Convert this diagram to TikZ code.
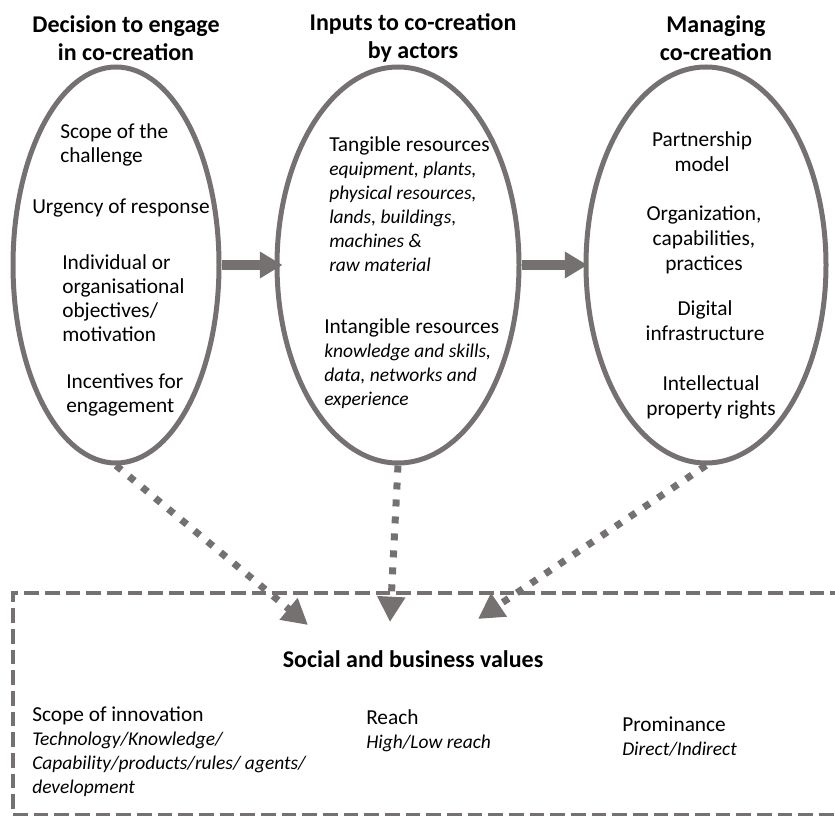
\documentclass[tikz,border=0pt]{standalone}
\usepackage{fontspec}
\setmainfont{Carlito}
\usepackage{tikz}
\usetikzlibrary{shapes.geometric,arrows.meta,positioning}

\definecolor{linegray}{RGB}{118,113,113}
% italic detail lines under an item
\newcommand{\detail}[1]{{\fontsize{14.6}{18}\selectfont\itshape #1}}

\begin{document}
\begin{tikzpicture}[x=0.75pt, y=-0.75pt,
        stage/.style={ellipse, draw=linegray, line width=3.75pt, minimum height=297pt, inner sep=0pt},
        title/.style={align=center, font=\bfseries\fontsize{18}{21}\selectfont},
        item/.style={align=left, anchor=west, inner sep=0pt, font=\fontsize{16}{18}\selectfont},
        citem/.style={align=center, inner sep=0pt, font=\fontsize{16}{18.75}\selectfont},
        bigarrow/.style={draw=linegray, line width=7.5pt, -{Triangle[length=17pt, width=19pt]}, color=linegray},
        dotarrow/.style={draw=linegray, line width=5.25pt, dash pattern=on 5.25pt off 7.5pt, -{Triangle[length=19pt, width=20pt]}, color=linegray},
        valuebox/.style={draw=linegray, line width=3.4pt, dash pattern=on 11pt off 4.5pt}]
        
        \useasboundingbox (0,0) rectangle (835,816);
        
        % the three stages
        \node[stage, minimum width=154.5pt] (decide) at (116,265) {};
        \node[stage, minimum width=181.5pt] (inputs) at (398,265) {};
        \node[stage, minimum width=180pt] (manage) at (706,265) {};
        
        \node[title] (decideT) at (126,38) {Decision to engage\\in co-creation};
        \node[title] (inputsT) at (413,38) {Inputs to co-creation\\by actors};
        \node[title] (manageT) at (716,38) {Managing\\co-creation};
        
        % decision factors
        \node[item] (scope) at (60,145) {Scope of the\\challenge};
        \node[item] (urgency) at (32,208) {Urgency of response};
        \node[item] (motive) at (62,298) {Individual or\\organisational\\objectives/\\motivation};
        \node[item] (incent) at (66,395) {Incentives for\\engagement};
        
        % resources
        \node[item] (tangible) at (329,204) {Tangible resources\\\detail{equipment, plants,}\\\detail{physical resources,}\\\detail{lands, buildings,}\\\detail{machines \&}\\\detail{raw material}};
        \node[item] (intangible) at (324,364) {Intangible resources\\\detail{knowledge and skills,}\\\detail{data, networks and}\\\detail{experience}};
        
        % management
        \node[citem] (partner) at (702,152) {Partnership\\model};
        \node[citem] (organ) at (704,240) {Organization,\\capabilities,\\practices};
        \node[citem] (digital) at (705,321) {Digital\\infrastructure};
        \node[citem] (ipr) at (711,397) {Intellectual\\property rights};
        
        % values box (open to the right)
        \coordinate (boxNE) at (845,593);
        \coordinate (boxNW) at (13,593);
        \coordinate (boxSW) at (13,815);
        \coordinate (boxSE) at (845,815);
        \draw[valuebox] (boxNE) -- (boxNW) -- (boxSW) -- (boxSE);
        
        \node[title] (values) at (413,659) {Social and business values};
        \node[item] (innov) at (32,752) {Scope of innovation\\\detail{Technology/Knowledge/}\\\detail{Capability/products/rules/ agents/}\\\detail{development}};
        \node[item] (reach) at (366,731) {Reach\\\detail{High/Low reach}};
        \node[item] (promin) at (622,737) {Prominance\\\detail{Direct/Indirect}};
        
        \coordinate (tipA) at (308,625);
        \coordinate (tipB) at (390,622);
        \coordinate (tipC) at (478,619);
        
        \draw[bigarrow, shorten >=-6pt] (decide.east) -- (inputs.west);
        \draw[bigarrow, shorten >=-3pt] (inputs.east) -- (manage.west);
        
        \draw[dotarrow] (decide.south) -- (tipA);
        \draw[dotarrow] (inputs.south) -- (tipB);
        \draw[dotarrow] (manage.south) -- (tipC);
    \end{tikzpicture}
\end{document}
